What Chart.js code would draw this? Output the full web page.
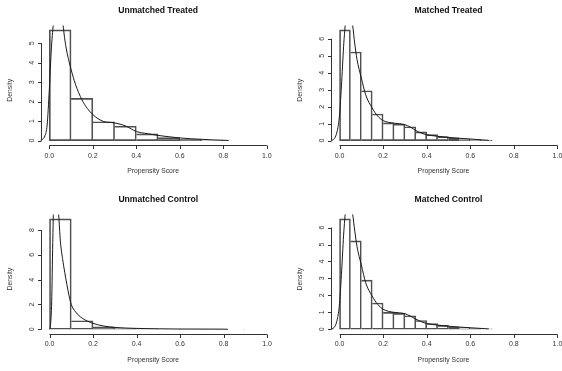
<!DOCTYPE html>
<html>
<head>
<meta charset="utf-8">
<script src="https://cdn.jsdelivr.net/npm/chart.js@4.4.1/dist/chart.umd.min.js"></script>
<style>
  html, body { margin: 0; padding: 0; background: #fff; width: 562px; height: 371px; overflow: hidden; }
  canvas { position: absolute; }
</style>
</head>
<body>
<canvas id="ut" width="281" height="185" style="left:0px;top:0px"></canvas>
<canvas id="mt" width="290" height="185" style="left:281px;top:0px"></canvas>
<canvas id="uc" width="281" height="182" style="left:0px;top:189px"></canvas>
<canvas id="mc" width="290" height="182" style="left:281px;top:189px"></canvas>
<script>
// x axis ticks shared by all four panels
const xTicks = [0, 0.2, 0.4, 0.6, 0.8, 1.0];
const xTickLabels = ['0.0', '0.2', '0.4', '0.6', '0.8', '1.0'];

// Unmatched Treated - histogram (bins of 0.1) + density curve
const utBreaks = [0, 0.1, 0.2, 0.3, 0.4, 0.5, 0.6, 0.7, 0.8];
const utDensity = [5.68, 2.17, 0.97, 0.74, 0.35, 0.16, 0.07, 0.03];
const utCurveX = [-0.045, -0.03, -0.02, -0.01, 0, 0.01, 0.02, 0.04, 0.06, 0.07, 0.08, 0.09, 0.1, 0.12, 0.15, 0.175, 0.2, 0.225, 0.25, 0.275, 0.3, 0.35, 0.4, 0.45, 0.5, 0.55, 0.6, 0.65, 0.7, 0.75, 0.8, 0.825];
const utCurveY = [0.02, 0.08, 0.25, 0.8, 2.6, 4.8, 6.1, 7.2, 6.2, 5.3, 4.6, 4.1, 3.66, 2.9, 2.1, 1.65, 1.34, 1.12, 0.98, 0.94, 0.91, 0.76, 0.47, 0.36, 0.27, 0.2, 0.14, 0.1, 0.07, 0.04, 0.02, 0.01];
const utYTicks = [0, 1, 2, 3, 4, 5];

// Matched Treated - bins of 0.05
const mtBreaks = [0, 0.05, 0.1, 0.15, 0.2, 0.25, 0.3, 0.35, 0.4, 0.45, 0.5, 0.55, 0.6, 0.65, 0.7];
const mtDensity = [6.52, 5.22, 2.94, 1.57, 1.05, 0.97, 0.82, 0.52, 0.36, 0.24, 0.16, 0.1, 0.06, 0.02];
const mtCurveX = [-0.04, -0.03, -0.02, -0.01, 0, 0.01, 0.02, 0.03, 0.045, 0.06, 0.07, 0.08, 0.09, 0.1, 0.12, 0.15, 0.175, 0.2, 0.225, 0.25, 0.275, 0.3, 0.325, 0.35, 0.375, 0.4, 0.45, 0.5, 0.55, 0.6, 0.65, 0.685];
const mtCurveY = [0.01, 0.05, 0.2, 0.6, 1.5, 3.5, 5.8, 7.2, 7.6, 6.8, 5.7, 4.8, 4.2, 3.69, 2.7, 1.92, 1.45, 1.18, 1.08, 1.03, 1.0, 0.94, 0.8, 0.6, 0.45, 0.35, 0.26, 0.19, 0.14, 0.1, 0.05, 0.02];
const mtYTicks = [0, 1, 2, 3, 4, 5, 6];

// Unmatched Control - bins of 0.1
const ucBreaks = [0, 0.1, 0.2, 0.3, 0.4, 0.5, 0.6, 0.7, 0.8, 0.9];
const ucDensity = [8.9, 0.69, 0.2, 0.08, 0.04, 0.02, 0.01, 0.01, 0.005];
const ucCurveX = [0, 0.005, 0.01, 0.015, 0.02, 0.03, 0.042, 0.05, 0.06, 0.07, 0.08, 0.09, 0.1, 0.12, 0.15, 0.2, 0.25, 0.3, 0.35, 0.4, 0.5, 0.6, 0.7, 0.8, 0.82];
const ucCurveY = [0, 0.4, 2.2, 7, 10.5, 11, 9.25, 7.1, 5.7, 4.6, 3.6, 2.7, 2.0, 1.4, 0.9, 0.48, 0.26, 0.15, 0.1, 0.07, 0.04, 0.02, 0.015, 0.01, 0];
const ucYTicks = [0, 2, 4, 6, 8];

// Matched Control - bins of 0.05
const mcBreaks = [0, 0.05, 0.1, 0.15, 0.2, 0.25, 0.3, 0.35, 0.4, 0.45, 0.5, 0.55, 0.6, 0.65, 0.7];
const mcDensity = [6.51, 5.21, 2.9, 1.55, 1.0, 0.94, 0.8, 0.52, 0.34, 0.23, 0.15, 0.1, 0.06, 0.02];
const mcCurveX = [-0.04, -0.03, -0.02, -0.01, 0, 0.01, 0.02, 0.03, 0.045, 0.06, 0.07, 0.08, 0.09, 0.1, 0.12, 0.15, 0.175, 0.2, 0.225, 0.25, 0.275, 0.3, 0.325, 0.35, 0.375, 0.4, 0.45, 0.5, 0.55, 0.6, 0.65, 0.685];
const mcCurveY = [0.01, 0.05, 0.2, 0.6, 1.5, 3.5, 5.8, 7.2, 7.6, 6.8, 5.8, 4.9, 4.3, 3.8, 2.75, 1.95, 1.47, 1.18, 1.06, 1.0, 0.97, 0.92, 0.78, 0.6, 0.45, 0.34, 0.25, 0.18, 0.13, 0.09, 0.05, 0.02];
const mcYTicks = [0, 1, 2, 3, 4, 5, 6];

const FONT = '"Liberation Sans", Arial, sans-serif';

// draws the R style axes, titles and labels (axis line only spans first..last tick)
const rAxes = {
    id: 'rAxes',
    afterDraw(chart, args, opts) {
        const ctx = chart.ctx;
        const a = chart.chartArea;
        const x = chart.scales.x, y = chart.scales.y;
        ctx.save();
        ctx.strokeStyle = '#333';
        ctx.lineWidth = 1;

        // x axis
        const yb = Math.round(a.bottom) + 0.5;
        ctx.beginPath();
        ctx.moveTo(x.getPixelForValue(xTicks[0]), yb);
        ctx.lineTo(x.getPixelForValue(xTicks[xTicks.length - 1]), yb);
        xTicks.forEach(v => {
            const px = Math.round(x.getPixelForValue(v)) + 0.5;
            ctx.moveTo(px, yb);
            ctx.lineTo(px, yb + 3.5);
        });
        // y axis
        const xl = Math.round(a.left) + 0.5;
        const yt = opts.yTicks;
        ctx.moveTo(xl, y.getPixelForValue(yt[0]));
        ctx.lineTo(xl, y.getPixelForValue(yt[yt.length - 1]));
        yt.forEach(v => {
            const py = Math.round(y.getPixelForValue(v)) + 0.5;
            ctx.moveTo(xl, py);
            ctx.lineTo(xl - 3.5, py);
        });
        ctx.stroke();

        ctx.fillStyle = '#333';
        ctx.textAlign = 'center';
        ctx.textBaseline = 'middle';
        ctx.font = '7px ' + FONT;
        xTicks.forEach((v, i) => {
            ctx.fillText(xTickLabels[i], x.getPixelForValue(v), a.bottom + 10.8);
        });
        yt.forEach(v => {
            ctx.save();
            ctx.translate(a.left - 9, y.getPixelForValue(v));
            ctx.rotate(-Math.PI / 2);
            ctx.fillText(String(v), 0, 0);
            ctx.restore();
        });

        // axis titles
        ctx.font = '6.8px ' + FONT;
        ctx.fillText('Propensity Score', (a.left + a.right) / 2 - 5, a.bottom + 26.5);
        ctx.save();
        ctx.translate(a.left - 30.5, (a.top + a.bottom) / 2 + 5);
        ctx.rotate(-Math.PI / 2);
        ctx.fillText('Density', 0, 0);
        ctx.restore();

        // main title
        ctx.fillStyle = '#111';
        ctx.font = 'bold 8.6px ' + FONT;
        ctx.fillText(opts.title, (a.left + a.right) / 2, a.top - 14.5);
        ctx.restore();
    }
};

function histPoints(breaks, dens) {
    const pts = [];
    for (let i = 0; i < dens.length; i++) {
        pts.push({x: (breaks[i] + breaks[i + 1]) / 2, y: dens[i]});   // bin midpoint
    }
    return pts;
}

// a shared edge between two bins is drawn by the taller one only
function binBorder(dens) {
    return c => {
        const i = c.dataIndex, n = dens.length;
        return {
            top: 1,
            bottom: 1,
            left: (i === 0 || dens[i] >= dens[i - 1]) ? 1 : 0,
            right: (i === n - 1 || dens[i] > dens[i + 1]) ? 1 : 0
        };
    };
}

function makePanel(id, title, breaks, dens, cx, cy, yTicks, area) {
    const canvas = document.getElementById(id);
    const ymax = Math.max(...dens);                 // R ylim = c(0, max density)
    const curve = cx.map((v, i) => ({x: v, y: cy[i]}));

    new Chart(canvas, {
        type: 'bar',
        data: {
            datasets: [
                {
                    type: 'line',
                    data: curve,
                    borderColor: '#1a1a1a',
                    borderWidth: 1,
                    pointRadius: 0,
                    cubicInterpolationMode: 'monotone',
                    order: 0
                },
                {
                    type: 'bar',
                    data: histPoints(breaks, dens),
                    backgroundColor: 'rgba(255,255,255,0)',
                    borderColor: '#505050',
                    borderWidth: binBorder(dens),
                    borderSkipped: false,
                    barPercentage: 1,
                    categoryPercentage: 1,
                    order: 1
                }
            ]
        },
        options: {
            responsive: false,
            animation: false,
            devicePixelRatio: 1,
            layout: {
                padding: {
                    left: area.left,
                    right: canvas.width - area.right,
                    top: area.top,
                    bottom: canvas.height - area.bottom
                }
            },
            scales: {
                x: { type: 'linear', min: -0.04, max: 1.04, offset: false, display: false },
                y: { type: 'linear', min: -0.04 * ymax, max: 1.04 * ymax, display: false }
            },
            plugins: {
                legend: { display: false },
                tooltip: { enabled: false },
                rAxes: { title: title, yTicks: yTicks }
            }
        },
        plugins: [rAxes]
    });
}

makePanel('ut', 'Unmatched Treated', utBreaks, utDensity, utCurveX, utCurveY, utYTicks,
    {left: 40.6, right: 275.5, top: 25.5, bottom: 145.1});
makePanel('mt', 'Matched Treated', mtBreaks, mtDensity, mtCurveX, mtCurveY, mtYTicks,
    {left: 49.8, right: 285.2, top: 25.5, bottom: 145.1});
makePanel('uc', 'Unmatched Control', ucBreaks, ucDensity, ucCurveX, ucCurveY, ucYTicks,
    {left: 40.8, right: 275.7, top: 25.5, bottom: 144.7});
makePanel('mc', 'Matched Control', mcBreaks, mcDensity, mcCurveX, mcCurveY, mcYTicks,
    {left: 49.8, right: 285.2, top: 25.5, bottom: 144.7});
</script>
</body>
</html>
